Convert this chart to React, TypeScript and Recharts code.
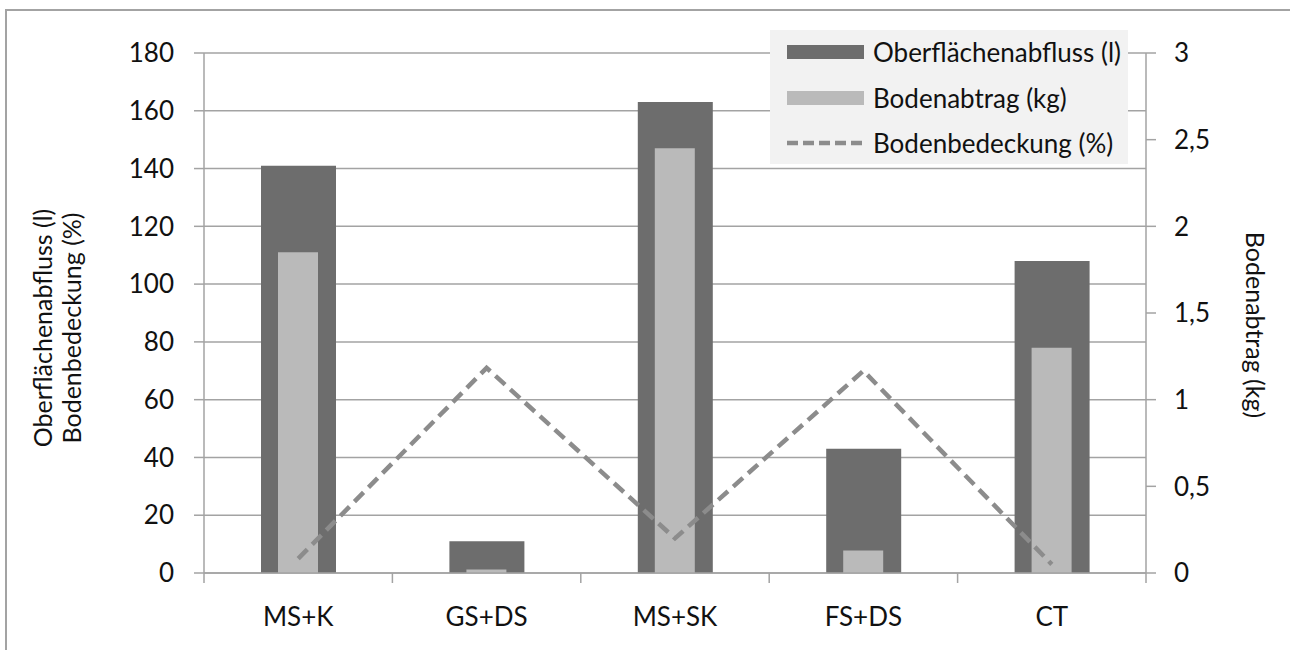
import { ComposedChart, Bar, Line, XAxis, YAxis, CartesianGrid, Legend } from 'recharts';

const categories = ['MS+K', 'GS+DS', 'MS+SK', 'FS+DS', 'CT'];
const runoff = [141, 11, 163, 43, 108]; // Oberflächenabfluss (l)
const soilLoss = [1.85, 0.02, 2.45, 0.13, 1.3]; // Bodenabtrag (kg)
const cover = [5, 71, 12, 70, 3]; // Bodenbedeckung (%)

const seriesNames = ['Oberflächenabfluss (l)', 'Bodenabtrag (kg)', 'Bodenbedeckung (%)'];
const leftTicks = [0, 20, 40, 60, 80, 100, 120, 140, 160, 180];
const rightTicks = [0, 0.5, 1, 1.5, 2, 2.5, 3];

const data = categories.map((cat, i) => ({
  cat,
  runoff: runoff[i],
  soil: soilLoss[i],
  cover: cover[i],
}));

const FONT = 'Lato, "Open Sans", sans-serif';
const AXIS = '#a3a3a3';
const TEXT = '#111';
const X_TICK_MARGIN = 29;

const deComma = (v: number) => String(v).replace('.', ',');

// category label + Excel-style tick marks between the categories
function CategoryTick(props: any) {
  const { x, y, payload, index, visibleTicksCount } = props;
  const half = payload?.offset ?? 94;
  const top = y - 6 - X_TICK_MARGIN;
  return (
    <g>
      <line x1={x - half} x2={x - half} y1={top} y2={top + 10} stroke={AXIS} strokeWidth={1.5} />
      {index === visibleTicksCount - 1 && (
        <line x1={x + half} x2={x + half} y1={top} y2={top + 10} stroke={AXIS} strokeWidth={1.5} />
      )}
      <text x={x} y={y} dy="0.71em" textAnchor="middle" fill={TEXT} fontSize={26} fontFamily={FONT}>
        {payload.value}
      </text>
    </g>
  );
}

function LegendBox({ payload }: any) {
  const items = [...(payload ?? [])].sort(
    (a: any, b: any) => seriesNames.indexOf(a.value) - seriesNames.indexOf(b.value)
  );
  return (
    <div style={{ background: '#f2f2f2', width: 358, height: 134, position: 'relative', fontFamily: FONT, fontSize: 26, color: TEXT }}>
      {items.map((item: any, i: number) => (
        <div key={item.value} style={{ position: 'absolute', left: 17, top: 22 + i * 45.5 - 17, height: 34, display: 'flex', alignItems: 'center' }}>
          <svg width={77} height={14} style={{ marginRight: 9 }}>
            {item.type === 'line' ? (
              <line x1={0} x2={77} y1={7} y2={7} stroke={item.color} strokeWidth={4.5} strokeDasharray="11 5" />
            ) : (
              <rect x={0} y={0} width={77} height={14} fill={item.color} />
            )}
          </svg>
          <span style={{ whiteSpace: 'nowrap' }}>{item.value}</span>
        </div>
      ))}
    </div>
  );
}

export default function App() {
  return (
    <div style={{ position: 'relative', width: 1290, height: 650, background: '#fff' }}>
      <style>{'body{margin:0}'}</style>
      <div style={{ position: 'absolute', left: 5, top: 9, right: 0, bottom: 0, borderTop: `2px solid ${AXIS}`, borderLeft: `2px solid ${AXIS}` }} />
      <ComposedChart
        width={1290}
        height={650}
        data={data}
        margin={{ top: 53, right: 0, bottom: 17, left: 0 }}
        style={{ position: 'absolute', left: 0, top: 0 }}
      >
        <CartesianGrid yAxisId="left" xAxisId="main" vertical={false} stroke={AXIS} strokeWidth={1.5} />
        <XAxis
          xAxisId="main"
          dataKey="cat"
          height={60}
          axisLine={{ stroke: AXIS, strokeWidth: 1.5 }}
          tickLine={false}
          tickMargin={X_TICK_MARGIN}
          tick={<CategoryTick />}
        />
        {/* second category axis so the narrow bar sits centred inside the wide one */}
        <XAxis xAxisId="inner" dataKey="cat" orientation="top" height={0} hide />
        <YAxis
          yAxisId="left"
          width={204}
          domain={[0, 180]}
          ticks={leftTicks}
          interval={0}
          tickSize={10}
          tickMargin={20}
          axisLine={{ stroke: AXIS, strokeWidth: 1.5 }}
          tickLine={{ stroke: AXIS, strokeWidth: 1.5 }}
          tick={{ fill: TEXT, fontSize: 26, fontFamily: FONT }}
          label={{
            content: () => (
              <g fontFamily={FONT} fontSize={25} fill={TEXT} textAnchor="middle">
                <text transform="translate(42 328) rotate(-90)" dominantBaseline="central">Oberflächenabfluss (l)</text>
                <text transform="translate(71 328) rotate(-90)" dominantBaseline="central">Bodenbedeckung (%)</text>
              </g>
            ),
          }}
        />
        <YAxis
          yAxisId="right"
          orientation="right"
          width={144}
          domain={[0, 3]}
          ticks={rightTicks}
          interval={0}
          tickSize={10}
          tickMargin={18}
          tickFormatter={deComma}
          axisLine={{ stroke: AXIS, strokeWidth: 1.5 }}
          tickLine={{ stroke: AXIS, strokeWidth: 1.5 }}
          tick={{ fill: TEXT, fontSize: 26, fontFamily: FONT }}
          label={{
            content: () => (
              <text transform="translate(1256 325) rotate(90)" textAnchor="middle" dominantBaseline="central" fontFamily={FONT} fontSize={25} fill={TEXT}>
                Bodenabtrag (kg)
              </text>
            ),
          }}
        />
        <Legend
          layout="vertical"
          align="center"
          verticalAlign="middle"
          content={<LegendBox />}
          wrapperStyle={{ top: 30, left: 770, width: 358, height: 134 }}
        />
        <Bar name={seriesNames[0]} dataKey="runoff" xAxisId="main" yAxisId="left" barSize={75} fill="#6d6d6d" isAnimationActive={false} />
        <Bar name={seriesNames[1]} dataKey="soil" xAxisId="inner" yAxisId="right" barSize={40} fill="#bababa" isAnimationActive={false} />
        <Line
          name={seriesNames[2]}
          dataKey="cover"
          xAxisId="main"
          yAxisId="left"
          type="linear"
          stroke="#8c8c8c"
          strokeWidth={4.5}
          strokeDasharray="13 7"
          dot={false}
          activeDot={false}
          legendType="line"
          isAnimationActive={false}
        />
      </ComposedChart>
    </div>
  );
}
